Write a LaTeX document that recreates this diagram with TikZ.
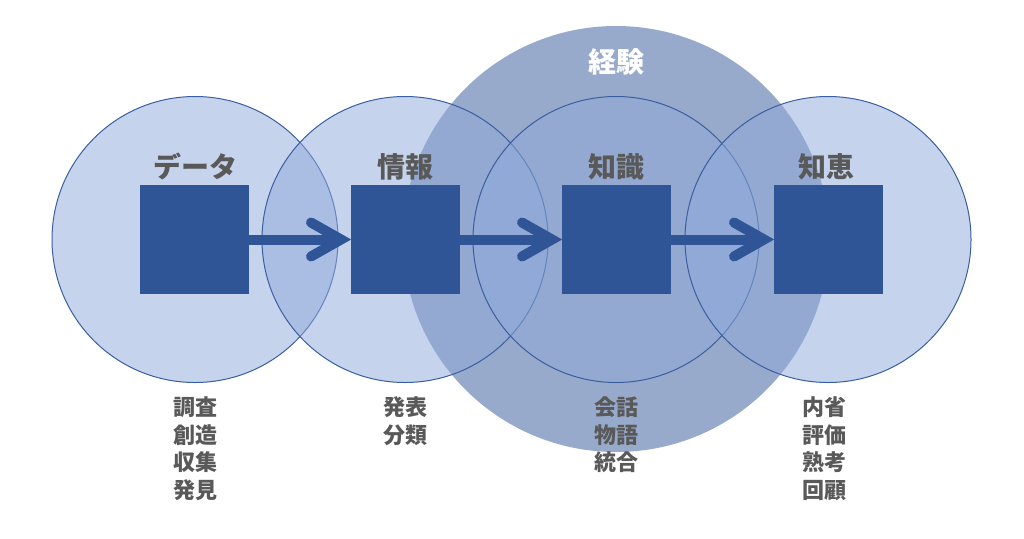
\documentclass[tikz,border=0pt]{standalone}
\usepackage{fontspec}
\setmainfont{Noto Sans CJK JP}
\definecolor{sq}{HTML}{2F5597}
\definecolor{txt}{HTML}{595959}
\definecolor{big}{HTML}{98AACB}
\definecolor{smallfill}{HTML}{8FA9DA}
\definecolor{ring}{HTML}{3A5FA0}
\tikzset{
 bigc/.style={circle, fill=big, minimum size=426pt, inner sep=0pt, outer sep=0pt},
 smallc/.style={circle, fill=smallfill, fill opacity=0.51, draw=ring, draw opacity=1, line width=1pt, minimum size=286pt, inner sep=0pt, outer sep=0pt},
 sqbox/.style={rectangle, fill=sq, minimum size=109pt, inner sep=0pt, outer sep=0pt},
 title/.style={font=\bfseries\fontsize{28}{32}\selectfont, text=txt, anchor=base, inner sep=0pt},
 lst/.style={font=\bfseries\fontsize{22}{27.5}\selectfont, text=txt, align=center, anchor=base, inner sep=0pt},
 shaft/.style={draw=sq, line width=10pt},
 barb/.style={draw=sq, line width=10pt, line cap=round, line join=miter}
}
\begin{document}
\begin{tikzpicture}[x=1pt,y=-1pt]
\useasboundingbox (0,0) rectangle (1024,538);
\node[bigc] (exp) at (616,239) {};
\node[smallc] (c1) at (195,239.5) {};
\node[smallc] (c2) at (405,239.5) {};
\node[smallc] (c3) at (616,239.5) {};
\node[smallc] (c4) at (828,239.5) {};
\node[sqbox] (s1) at (194.5,239.5) {};
\node[sqbox] (s2) at (405.5,239.5) {};
\node[sqbox] (s3) at (616.5,239.5) {};
\node[sqbox] (s4) at (828.5,239.5) {};
\foreach \a/\b in {s1/s2,s2/s3,s3/s4}{
  \draw[shaft] (\a.east) -- ([xshift=-10pt]\b.west);
  \draw[barb] ([xshift=-40pt,yshift=17pt]\b.west) -- ([xshift=-10pt]\b.west) -- ([xshift=-40pt,yshift=-17pt]\b.west);
}
\node[title, text=white] (t0) at (616,72) {経験};
\node[title] (t1) at (195,177) {データ};
\node[title] (t2) at (405,177) {情報};
\node[title] (t3) at (616,177) {知識};
\node[title] (t4) at (826,177) {知恵};
\node[lst] (l1) at (195,498) {調査\\創造\\収集\\発見};
\node[lst] (l2) at (405,443) {発表\\分類};
\node[lst] (l3) at (616,470.5) {会話\\物語\\統合};
\node[lst] (l4) at (824,498) {内省\\評価\\熟考\\回顧};
\end{tikzpicture}
\end{document}
